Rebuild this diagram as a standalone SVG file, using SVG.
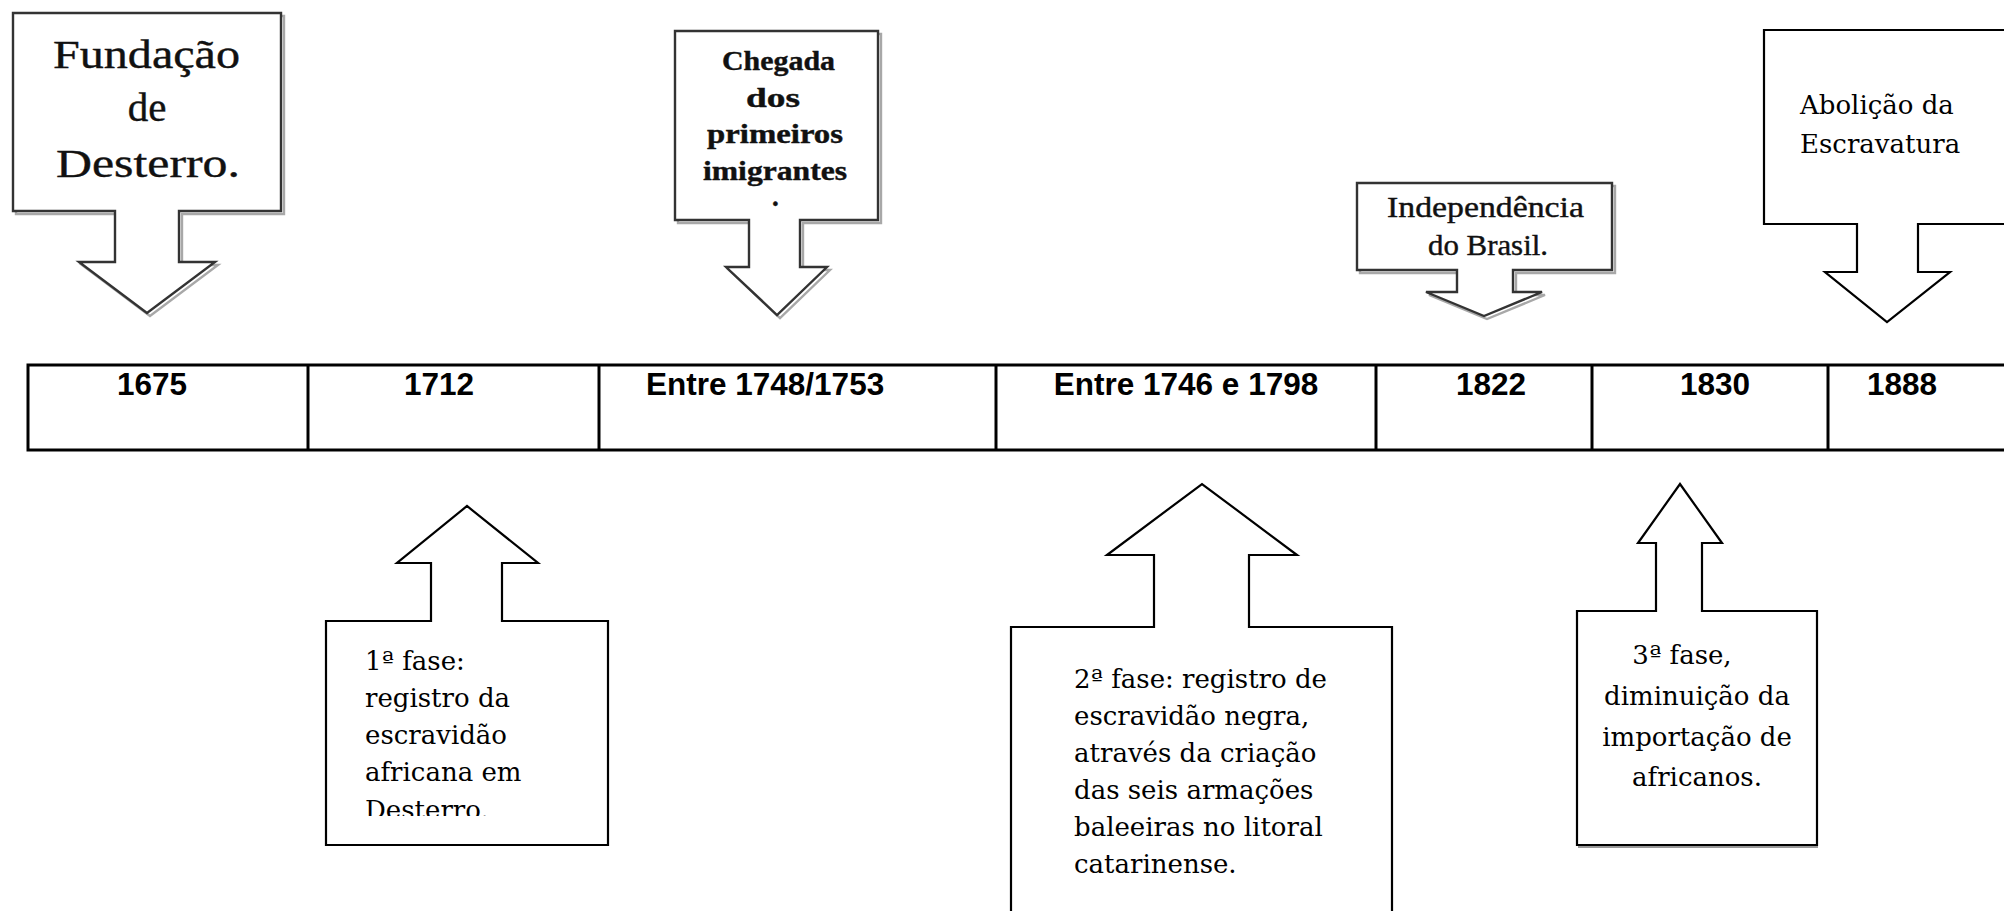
<svg xmlns="http://www.w3.org/2000/svg" width="2004" height="911" viewBox="0 0 2004 911">
<style>
  .shape{fill:#fff;stroke:#000;stroke-width:2.2;stroke-linejoin:miter}
  .bmp{fill:#fff;stroke:#333;stroke-width:2.4}
  .shadow{fill:none;stroke:#a8a8a8;stroke-width:2.4}
  .cell{fill:none;stroke:#000;stroke-width:3}
  .yr{font-family:"Liberation Sans",Arial,sans-serif;font-weight:bold;font-size:31.5px;fill:#000}
  .tr{font-family:"Liberation Serif","Times New Roman",serif;fill:#111;stroke:#111;stroke-width:0.4}
  .cb{font-family:"DejaVu Serif","Liberation Serif",serif;font-size:26px;fill:#000}
</style>
<defs>
  <clipPath id="clip1"><rect x="326" y="621" width="282" height="195"/></clipPath>
</defs>
<rect width="2004" height="911" fill="#fff"/>

<g id="connectors"></g>

<g id="node-fundacao">
  <path class="shadow" d="M16,16 H284 V214 H182 V265 H218 L150,316 L82,265 H118 V214 H16 Z"/>
  <path class="bmp" d="M13,13 H281 V211 H179 V262 H215 L147,313 L79,262 H115 V211 H13 Z"/>
  <text class="tr" font-size="41" x="53" y="68" textLength="187" lengthAdjust="spacingAndGlyphs">Fundação</text>
  <text class="tr" font-size="41" x="147" y="121" text-anchor="middle">de</text>
  <text class="tr" font-size="41" x="56" y="177" textLength="184" lengthAdjust="spacingAndGlyphs">Desterro.</text>
</g>

<g id="node-chegada">
  <path class="shadow" d="M678,34 H881 V223 H803 V270 H830 L780,318 L729,270 H752 V223 H678 Z"/>
  <path class="bmp" d="M675,31 H878 V220 H800 V267 H827 L777,315 L726,267 H749 V220 H675 Z"/>
  <g class="tr" font-size="27" font-weight="bold">
    <text x="722" y="70" textLength="113" lengthAdjust="spacingAndGlyphs">Chegada</text>
    <text x="746" y="107" textLength="54" lengthAdjust="spacingAndGlyphs">dos</text>
    <text x="707" y="143" textLength="136" lengthAdjust="spacingAndGlyphs">primeiros</text>
    <text x="703" y="180" textLength="144" lengthAdjust="spacingAndGlyphs">imigrantes</text>
    <text x="772" y="206">.</text>
  </g>
</g>

<g id="node-independencia">
  <path class="shadow" d="M1360,186 H1615 V273 H1516 V295 H1545 L1487,319 L1429,295 H1460 V273 H1360 Z"/>
  <path class="bmp" d="M1357,183 H1612 V270 H1513 V292 H1542 L1484,316 L1426,292 H1457 V270 H1357 Z"/>
  <text class="tr" font-size="29" x="1387" y="217" textLength="197" lengthAdjust="spacingAndGlyphs">Independência</text>
  <text class="tr" font-size="29" x="1428" y="255" textLength="120" lengthAdjust="spacingAndGlyphs">do Brasil.</text>
</g>

<g id="node-abolicao">
  <path class="shape" d="M1764,30 H2010 V224 H1918 V272 H1950 L1887,322 L1825,272 H1857 V224 H1764 Z"/>
  <text class="cb" x="1800" y="114">Abolição da</text>
  <text class="cb" x="1800" y="153">Escravatura</text>
</g>

<g id="timeline">
  <rect class="cell" x="28" y="365" width="1980" height="85"/>
  <line class="cell" x1="308" y1="365" x2="308" y2="450"/>
  <line class="cell" x1="599" y1="365" x2="599" y2="450"/>
  <line class="cell" x1="996" y1="365" x2="996" y2="450"/>
  <line class="cell" x1="1376" y1="365" x2="1376" y2="450"/>
  <line class="cell" x1="1592" y1="365" x2="1592" y2="450"/>
  <line class="cell" x1="1828" y1="365" x2="1828" y2="450"/>
  <text class="yr" x="152" y="395" text-anchor="middle">1675</text>
  <text class="yr" x="439" y="395" text-anchor="middle">1712</text>
  <text class="yr" x="646" y="395">Entre 1748/1753</text>
  <text class="yr" x="1186" y="395" text-anchor="middle">Entre 1746 e 1798</text>
  <text class="yr" x="1491" y="395" text-anchor="middle">1822</text>
  <text class="yr" x="1715" y="395" text-anchor="middle">1830</text>
  <text class="yr" x="1902" y="395" text-anchor="middle">1888</text>
</g>

<g id="node-fase1">
  <path class="shape" d="M326,621 H431 V563 H397 L467,506 L538,563 H502 V621 H608 V845 H326 Z"/>
  <g class="cb" clip-path="url(#clip1)">
    <text x="365" y="670">1ª fase:</text>
    <text x="365" y="707">registro da</text>
    <text x="365" y="744">escravidão</text>
    <text x="365" y="781">africana em</text>
    <text x="365" y="819">Desterro.</text>
  </g>
</g>

<g id="node-fase2">
  <path class="shape" d="M1011,627 H1154 V555 H1107 L1202,484 L1297,555 H1249 V627 H1392 V925 H1011 Z"/>
  <g class="cb">
    <text x="1074" y="688">2ª fase: registro de</text>
    <text x="1074" y="725">escravidão negra,</text>
    <text x="1074" y="762">através da criação</text>
    <text x="1074" y="799">das seis armações</text>
    <text x="1074" y="836">baleeiras no litoral</text>
    <text x="1074" y="873">catarinense.</text>
  </g>
</g>

<g id="node-fase3">
  <line x1="1578" y1="847" x2="1818" y2="847" stroke="#999" stroke-width="2"/>
  <path class="shape" d="M1577,611 H1656 V543 H1638 L1680,484 L1722,543 H1702 V611 H1817 V845 H1577 Z"/>
  <g class="cb" font-size="25" text-anchor="middle">
    <text x="1682" y="664">3ª fase,</text>
    <text x="1697" y="705">diminuição da</text>
    <text x="1697" y="746">importação de</text>
    <text x="1697" y="786">africanos.</text>
  </g>
</g>
</svg>
